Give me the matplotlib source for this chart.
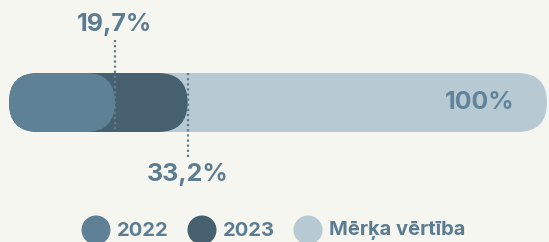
import matplotlib
matplotlib.use("Agg")
import matplotlib.pyplot as plt
from matplotlib.patches import FancyBboxPatch

# Data
series = ["2022", "2023", "Mērķa vērtība"]
values = [19.7, 33.2, 100.0]
value_labels = ["19,7%", "33,2%", "100%"]

# Colours
bar_colors = ["#5f8196", "#47606f", "#b7c9d3"]
text_color = "#5b7c91"
bg_color = "#f6f6f1"

plt.rcParams["font.family"] = ["Inter", "DejaVu Sans"]

W, H = 549, 242
fig = plt.figure(figsize=(W / 100, H / 100), dpi=100, facecolor=bg_color)
ax = fig.add_axes([0, 0, 1, 1])
ax.set_facecolor(bg_color)

# x in percent, y in pixels (top down)
k = 538 / 100.0          # pixels per percent
left_px = 9
ax.set_xlim(-left_px / k, (W - left_px) / k)
ax.set_ylim(H, 0)
ax.axis("off")

bar_top, bar_h = 73, 59
R = bar_h / 2.0

# draw target first, then 2023, then 2022 on top
for i in [2, 1, 0]:
    p = FancyBboxPatch((0, bar_top), values[i], bar_h,
                       boxstyle="round,pad=0,rounding_size=%f" % (R / k),
                       mutation_aspect=k, facecolor=bar_colors[i],
                       edgecolor="none", zorder=2 + (2 - i))
    ax.add_patch(p)

# dotted leader lines and value labels
ax.plot([values[0], values[0]], [40, bar_top + bar_h], color=text_color,
        linestyle=(0, (1, 1.3)), lw=1.6, zorder=6)
ax.plot([values[1], values[1]], [bar_top, 158], color=text_color,
        linestyle=(0, (1, 1.3)), lw=1.6, zorder=6)
ax.text(values[0], 25, value_labels[0], ha="center", va="center",
        fontsize=18, fontweight="bold", color=text_color)
ax.text(values[1], 174, value_labels[1], ha="center", va="center",
        fontsize=18, fontweight="bold", color=text_color)
ax.text(values[2] - 12.5, bar_top + bar_h / 2, value_labels[2], ha="center",
        va="center", fontsize=18, fontweight="bold", color="#62849a", zorder=6)

# legend
leg_x = [96, 202, 308]
for name, c, lx in zip(series, bar_colors, leg_x):
    ax.scatter([(lx - left_px) / k], [230], s=29 ** 2 * 0.52, color=c,
               edgecolors="none", clip_on=False)
    ax.text((lx + 21 - left_px) / k, 231, name, ha="left", va="center",
            fontsize=14.5, fontweight="bold", color=text_color)

fig.savefig("out.png", dpi=100, facecolor=bg_color)
